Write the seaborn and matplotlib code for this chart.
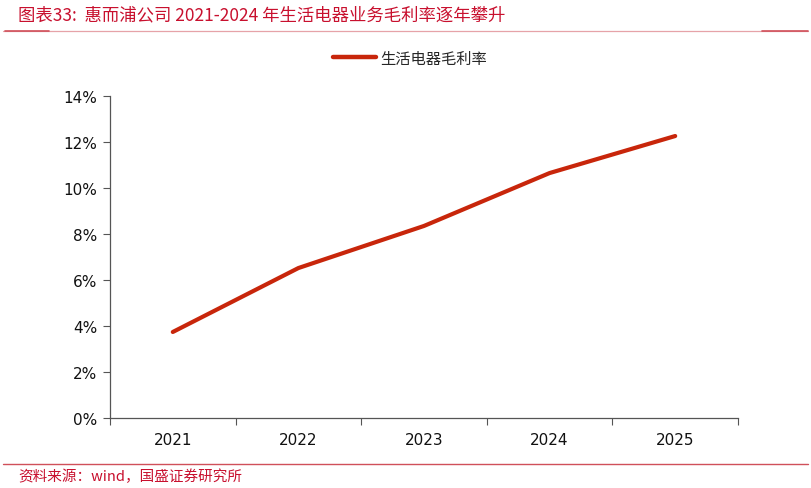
import matplotlib
matplotlib.use("Agg")
import matplotlib.pyplot as plt
import seaborn as sns
import pandas as pd
from matplotlib.lines import Line2D
from matplotlib.ticker import FuncFormatter

# data
years = ["2021", "2022", "2023", "2024", "2025"]
margin = [0.0374, 0.0652, 0.0835, 0.1065, 0.1226]
series_name = "生活电器毛利率"

title_text = "图表33:  惠而浦公司 2021-2024 年生活电器业务毛利率逐年攀升"
source_text = "资料来源：wind，国盛证券研究所"

sns.set_theme(style="white")
plt.rcParams["font.family"] = ["Noto Sans CJK SC", "DejaVu Sans"]

df = pd.DataFrame({"year": years, "margin": margin})

fig = plt.figure(figsize=(8.11, 4.89), dpi=100)
ax = fig.add_axes([110 / 811, 1 - 419 / 489, (738 - 110) / 811, (419 - 97) / 489])

line_color = "#C8260B"
sns.lineplot(data=df, x="year", y="margin", ax=ax, color=line_color,
             linewidth=3.0, sort=False, solid_capstyle="round")

ax.set_xlim(-0.5, len(years) - 0.5)
ax.set_ylim(0, 0.14)
ax.set_yticks([i * 0.02 for i in range(8)])
ax.yaxis.set_major_formatter(FuncFormatter(lambda v, p: f"{v * 100:.0f}%"))
ax.set_xlabel("")
ax.set_ylabel("")

# boundary ticks on x axis, labels centred in the bands
ax.set_xticks([i - 0.5 for i in range(len(years) + 1)])
ax.set_xticklabels([])
ax.set_xticks(range(len(years)), minor=True)
ax.set_xticklabels(years, minor=True)
ax.tick_params(axis="x", which="minor", bottom=False, length=0, pad=10, labelsize=11)
ax.tick_params(axis="x", which="major", bottom=True, direction="out", length=5,
               width=0.8, color="#555555")
ax.tick_params(axis="y", left=True, direction="out", length=5, width=0.8, color="#555555",
               labelsize=11, pad=4)
for lbl in ax.get_xticklabels(minor=True) + ax.get_yticklabels():
    lbl.set_family(["DejaVu Sans"])
    lbl.set_color("#111111")

for s in ["top", "right"]:
    ax.spines[s].set_visible(False)
for s in ["left", "bottom"]:
    ax.spines[s].set_color("#555555")
    ax.spines[s].set_linewidth(0.9)

# legend
handle = Line2D([0], [0], color=line_color, linewidth=3.2, solid_capstyle="round")
fig.legend([handle], [series_name], loc="center", bbox_to_anchor=(410 / 811, 1 - 59 / 489),
           frameon=False, fontsize=11, handlelength=2.8, handletextpad=0.3)

# header / footer
red = "#C8102E"
fig.text(18 / 811, 1 - 15 / 489, title_text, color=red, fontsize=12.5, ha="left", va="center",
         style="italic")
fig.add_artist(Line2D([3 / 811, 808 / 811], [1 - 32 / 489] * 2, color="#E6A3A8",
                      linewidth=0.9, transform=fig.transFigure))
fig.add_artist(Line2D([5 / 811, 49 / 811], [1 - 32 / 489] * 2, color="#D0505A",
                      linewidth=1.2, transform=fig.transFigure))
fig.add_artist(Line2D([762 / 811, 808 / 811], [1 - 32 / 489] * 2, color="#D0505A",
                      linewidth=1.2, transform=fig.transFigure))
fig.add_artist(Line2D([3 / 811, 808 / 811], [1 - 465 / 489] * 2, color="#D0505A",
                      linewidth=1.0, transform=fig.transFigure))
fig.text(18 / 811, 1 - 477 / 489, source_text, color=red, fontsize=10.5, ha="left",
         va="center", style="italic")

fig.savefig("out.png", dpi=100)
